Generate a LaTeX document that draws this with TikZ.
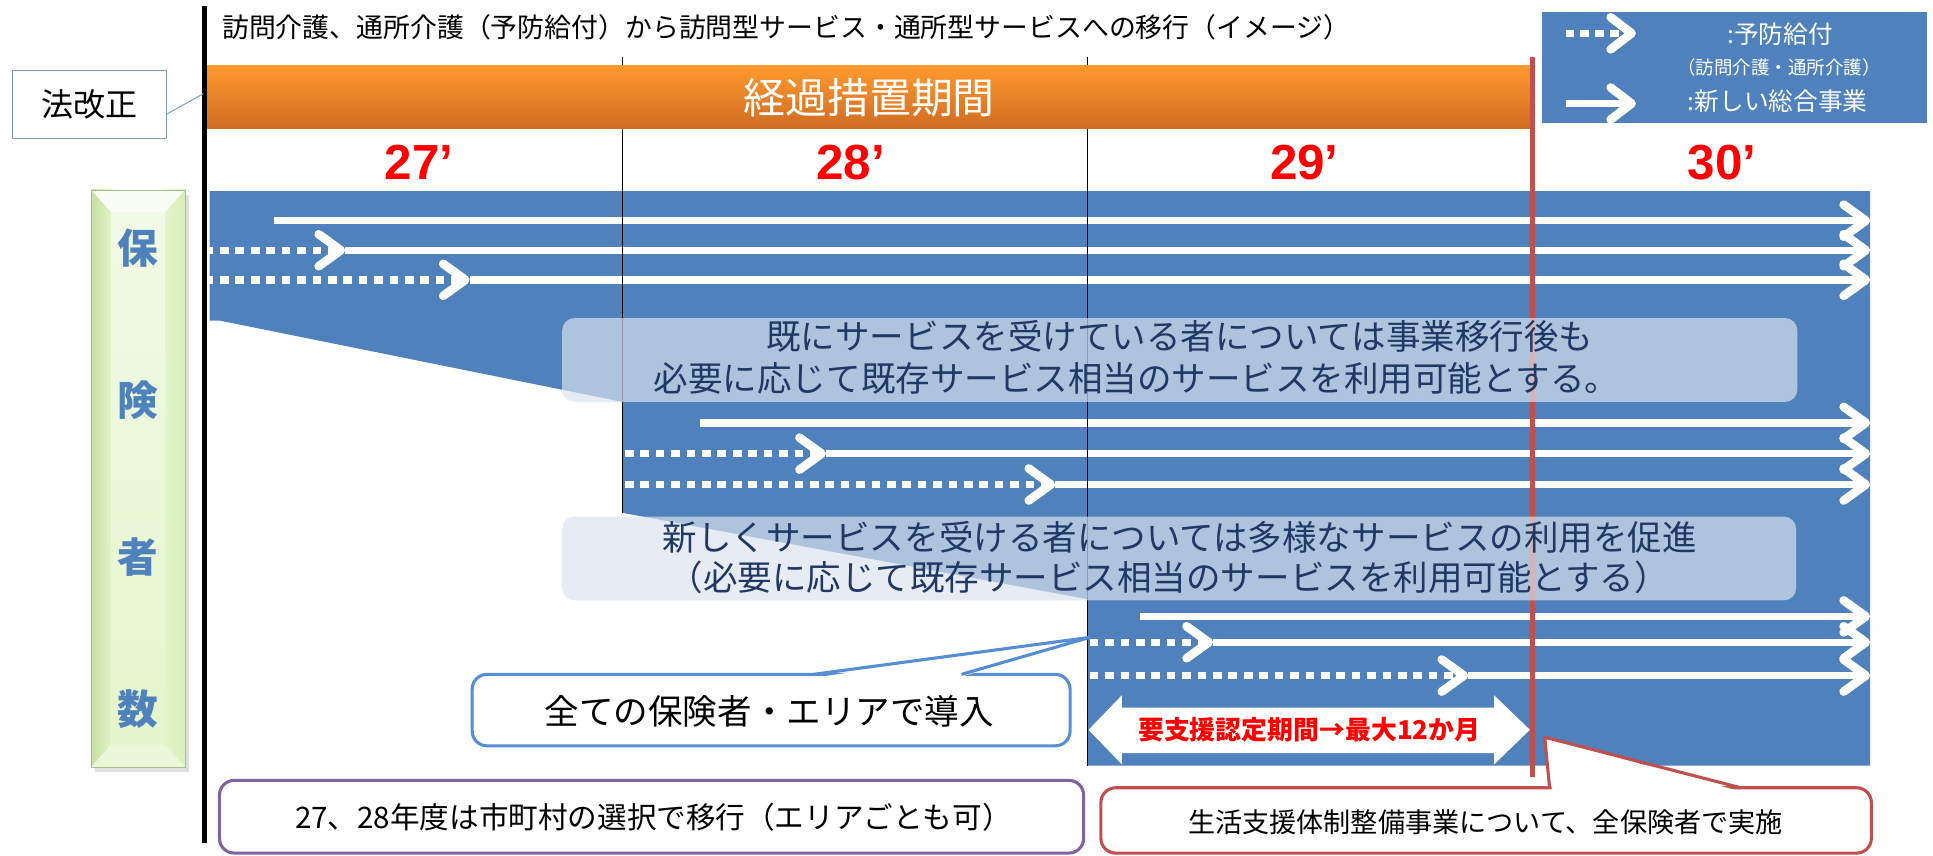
\documentclass[tikz,border=0pt]{standalone}
\usepackage{fontspec}
\setmainfont{Noto Sans CJK JP}
\newfontfamily\yearfont{Liberation Sans}
\usetikzlibrary{arrows.meta,calc}
\definecolor{mblue}{HTML}{4F81BD}
\definecolor{navy}{HTML}{1F3864}
\definecolor{dred}{HTML}{C0504D}
\definecolor{cblue}{HTML}{558ED5}
\definecolor{cpurple}{HTML}{8064A2}
\definecolor{org1}{HTML}{FF9A30}
\definecolor{org2}{HTML}{CF6C21}
\definecolor{boxfill}{RGB}{220,228,239}
\definecolor{lawborder}{HTML}{7F9CC0}
\definecolor{gleft}{HTML}{C6DFA2}
\definecolor{gface}{HTML}{E4F6CB}
\definecolor{gfacetop}{HTML}{F1FAE6}
\definecolor{gright}{HTML}{DCF2BC}
\definecolor{gtop}{HTML}{FAFDF4}
\definecolor{gbot}{HTML}{EAF7D8}
\definecolor{yred}{HTML}{FF0000}
\begin{document}
\begin{tikzpicture}[x=1pt,y=-1pt,
  wline/.style={draw=white,line width=6pt},
  wdots/.style={draw=white,line width=6pt,dash pattern=on 7pt off 5.5pt},
  chev/.style={-{Straight Barb[length=18pt,width=26pt,line width=1pt 1,round]}},
  thinline/.style={black,line width=1.2pt},
  tbox/.style={fill=boxfill,fill opacity=0.68,rounded corners=10pt},
  boxtext/.style={text=navy,font=\fontsize{28pt}{34pt}\selectfont,inner sep=0pt},
  yearlbl/.style={text=yred,font=\yearfont\bfseries\fontsize{40pt}{40pt}\selectfont,inner sep=0pt},
  gchar/.style={text=mblue,font=\bfseries\fontsize{33pt}{33pt}\selectfont,inner sep=0pt},
  legtext/.style={text=white,inner sep=0pt},
  callbox/.style={fill=white,line width=2.5pt,rounded corners=12pt},
]
\useasboundingbox (0,0) rectangle (1568,694);
\fill[white] (0,0) rectangle (1568,694);

% main blue region
\fill[mblue] (170,155) -- (1517,155) -- (1517,621) -- (882,621) -- (882,486)
  -- (505,416) -- (505,326) -- (178,260) -- (170,260) -- cycle;

% group 1 arrows
\draw[wline,chev] (222,179) -- (1517,179);
\draw[wdots,chev] (166,203) -- (280,203);
\draw[wline,chev] (280,203) -- (1517,203);
\draw[wdots,chev] (166,227) -- (381,227);
\draw[wline,chev] (381,227) -- (1517,227);
% group 2 arrows
\draw[wline,chev] (568,343) -- (1517,343);
\draw[wdots,chev] (507,368) -- (670,368);
\draw[wline,chev] (670,368) -- (1517,368);
\draw[wdots,chev] (507,393) -- (856,393);
\draw[wline,chev] (856,393) -- (1517,393);
% group 3 arrows
\draw[wline,chev] (925,500) -- (1517,500);
\draw[wdots,chev] (884,521) -- (984,521);
\draw[wline,chev] (984,521) -- (1517,521);
\draw[wdots,chev] (884,548) -- (1191,548);
\draw[wline,chev] (1191,548) -- (1517,548);

% double-headed arrow
\fill[white] (883,592) -- (910,564) -- (910,574) -- (1212,574) -- (1212,564)
  -- (1241,592) -- (1212,620) -- (1212,611) -- (910,611) -- (910,620) -- cycle;
\node[text=yred,font=\bfseries\fontsize{21pt}{21pt}\selectfont,inner sep=0pt] (period) at (1062,592) {要支援認定期間→最大12か月};

% vertical lines
\draw[thinline] (505,46) -- (505,416);
\draw[thinline] (882,46) -- (882,621);
\draw[dred,line width=3.5pt] (1243,46) -- (1243,630);
\draw[black,line width=3.5pt] (166,5) -- (166,684);

% orange bar
\shade[top color=org1,bottom color=org2] (168,53) rectangle (1241,104);
\node[text=white,font=\fontsize{34pt}{34pt}\selectfont,inner sep=0pt] (keika) at (705,79) {経過措置期間};

% title
\node[anchor=west,font=\fontsize{21.8pt}{22pt}\selectfont,inner sep=0pt] (title) at (180,22)
  {訪問介護、通所介護（予防給付）から訪問型サービス・通所型サービスへの移行（イメージ）};

% law revision box
\node[draw=lawborder,line width=0.8pt,fill=white,minimum width=125pt,minimum height=55pt,
  font=\fontsize{26pt}{26pt}\selectfont] (law) at (72.5,84.5) {法改正};
\coordinate (lawpt) at (165,76);
\draw[lawborder,line width=0.8pt] ($(law.east)+(0,8)$) -- (lawpt);

% year labels
\node[yearlbl] (y27) at (340,132) {27’};
\node[yearlbl] (y28) at (690,132) {28’};
\node[yearlbl] (y29) at (1058,132) {29’};
\node[yearlbl] (y30) at (1397,132) {30’};

% legend
\fill[mblue] (1251,10) rectangle (1563,100);
\draw[white,line width=6pt,dash pattern=on 7pt off 5pt,-{Straight Barb[length=17pt,width=26pt,line width=1pt 1,round]}] (1270,27) -- (1327,27);
\draw[white,line width=6pt,-{Straight Barb[length=17pt,width=26pt,line width=1pt 1,round]}] (1270,84) -- (1327,84);
\node[legtext,font=\fontsize{20pt}{20pt}\selectfont] (leg1) at (1444,28) {:予防給付};
\node[legtext,font=\fontsize{15pt}{15pt}\selectfont] (leg2) at (1443,55) {（訪問介護・通所介護）};
\node[legtext,font=\fontsize{20pt}{20pt}\selectfont] (leg3) at (1442,82) {:新しい総合事業};

% translucent text boxes
\fill[tbox] (456,258) rectangle (1458,326);
\node[boxtext] (t1a) at (957,273) {既にサービスを受けている者については事業移行後も};
\node[boxtext] (t1b) at (922,307) {必要に応じて既存サービス相当のサービスを利用可能とする。};
\fill[tbox] (456,419) rectangle (1457,487);
\node[boxtext] (t2a) at (957,436) {新しくサービスを受ける者については多様なサービスの利用を促進};
\node[boxtext] (t2b) at (948,468) {（必要に応じて既存サービス相当のサービスを利用可能とする）};

% green bar (bevelled)
\fill[black,opacity=0.12] (77,158) rectangle (153,626);
\shade[left color=gleft,right color=gface] (74,154) rectangle (92,622);
\shade[left color=gface,right color=gright!85!gleft] (132,154) rectangle (150,622);
\shade[top color=gfacetop,bottom color=gface] (90,172) rectangle (134,604);
\fill[gtop] (74,154) -- (150,154) -- (134,172) -- (90,172) -- cycle;
\fill[gbot] (74,622) -- (150,622) -- (134,604) -- (90,604) -- cycle;
\draw[gleft!85!black,line width=0.4pt] (74,154) rectangle (150,622);
\node[gchar] (g1) at (112,201) {保};
\node[gchar] (g2) at (112,325) {険};
\node[gchar] (g3) at (112,452) {者};
\node[gchar] (g4) at (112,575) {数};

% blue callout
\draw[callbox,draw=cblue] (383,547) rectangle (868,605);
\fill[white] (662,549.5) -- (884,517) -- (778,549.5) -- cycle;
\draw[cblue,line width=2.5pt,line join=round] (660,547) -- (884,517) -- (780,547);
\node[font=\fontsize{28pt}{28pt}\selectfont,inner sep=0pt] (allins) at (624,577) {全ての保険者・エリアで導入};

% purple box
\draw[callbox,draw=cpurple] (178,633) rectangle (879,692);
\node[font=\fontsize{24pt}{24pt}\selectfont,inner sep=0pt] (choice) at (530,663) {27、28年度は市町村の選択で移行（エリアごとも可）};

% red callout
\draw[callbox,draw=dred] (893,639) rectangle (1518,692);
\fill[white] (1259,641.5) -- (1253,598) -- (1410,641.5) -- cycle;
\draw[dred,line width=2.5pt,line join=round] (1257,639) -- (1253,598) -- (1412,639);
\node[font=\fontsize{22pt}{22pt}\selectfont,inner sep=0pt] (support) at (1205,667) {生活支援体制整備事業について、全保険者で実施};
\end{tikzpicture}
\end{document}
